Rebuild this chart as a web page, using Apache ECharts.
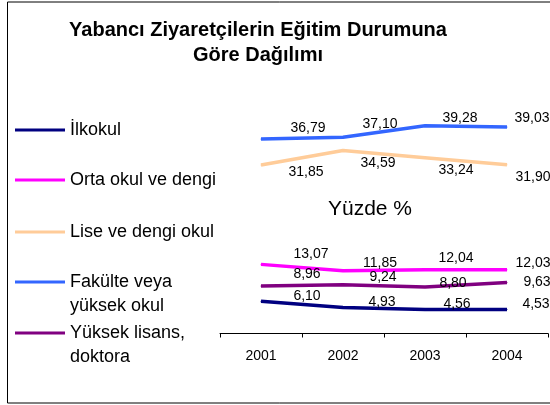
<!DOCTYPE html>
<html>
<head>
<meta charset="utf-8">
<script src="https://cdn.jsdelivr.net/npm/echarts@6/dist/echarts.min.js"></script>
<style>
html,body{margin:0;padding:0;background:#fff;}
#chart{width:550px;height:405px;}
</style>
</head>
<body>
<div id="chart"></div>
<script>
//yıllar ve seriler
var years=['2001','2002','2003','2004'];
var ilkokul=[6.10,4.93,4.56,4.53];
var ortaokul=[13.07,11.85,12.04,12.03];
var lise=[31.85,34.59,33.24,31.90];
var fakulte=[36.79,37.10,39.28,39.03];
var lisans=[8.96,9.24,8.80,9.63];

var names=['İlkokul','Orta okul ve dengi','Lise ve dengi okul','Fakülte veya\nyüksek okul','Yüksek lisans,\ndoktora'];
var colors=['#000080','#ff00ff','#ffcc99','#3366ff','#800080'];
var values=[ilkokul,ortaokul,lise,fakulte,lisans];

//etiket kaydırmaları (excel'deki gibi)
var offsets=[
	[[46,-5],[39,-5],[32,-5],[29,-5]],
	[[50,-10],[37,-8],[31,-12],[26,-7]],
	[[45,7],[35,13],[31,12],[26,12]],
	[[47,-11],[37,-13],[35,-8],[25,-9]],
	[[46,-12],[40,-7],[28,-4],[30,0]]
];
var legendCenters=[130,180,232,282,333];

var font='"Liberation Sans", Arial, sans-serif';

function fmt(v){
	return v.toFixed(2).replace('.',',');
}

var series=[];
var legends=[];
for(var i=0;i<names.length;i++){
	var pts=[];
	for(var j=0;j<values[i].length;j++){
		pts.push({value:values[i][j],label:{offset:offsets[i][j]}});
	}
	series.push({
		name:names[i],
		type:'line',
		data:pts,
		symbol:'circle',
		symbolSize:1,
		showSymbol:true,
		color:colors[i],
		lineStyle:{color:colors[i],width:3.5},
		itemStyle:{color:colors[i]},
		label:{
			show:true,
			position:'inside',
			color:'#000',
			fontSize:14,
			fontFamily:font,
			formatter:function(p){return fmt(p.value);}
		},
		emphasis:{disabled:true},
		animation:false
	});
	var two=names[i].indexOf('\n')>=0;
	legends.push({
		data:[names[i]],
		left:15,
		top:two?legendCenters[i]-36:legendCenters[i]-10,
		padding:0,
		icon:'rect',
		itemWidth:50,
		itemHeight:3,
		selectedMode:false,
		//iki satırlı isimlerde çizgi ilk satırın hizasında dursun
		formatter:two?function(n){return ' \n'+n;}:'{name}',
		textStyle:{
			color:'#000',
			fontSize:18,
			fontFamily:font,
			lineHeight:two?24:20
		}
	});
}

var myChart=echarts.init(document.getElementById('chart'));
var option={
	backgroundColor:'#fff',
	title:{
		text:'Yabancı Ziyaretçilerin Eğitim Durumuna\nGöre Dağılımı',
		left:258,
		top:18,
		padding:0,
		textAlign:'center',
		textStyle:{
			color:'#000',
			fontSize:20,
			fontWeight:'bold',
			fontFamily:font,
			lineHeight:25
		}
	},
	legend:legends,
	grid:{left:220,width:328,top:95.5,bottom:71.5,containLabel:false},
	xAxis:{
		type:'category',
		data:years,
		boundaryGap:true,
		axisLine:{lineStyle:{color:'#000',width:1}},
		axisTick:{show:true,length:4,lineStyle:{color:'#000'}},
		axisLabel:{color:'#000',fontSize:14,fontFamily:font,margin:16}
	},
	yAxis:{
		type:'value',
		min:0,
		max:45,
		show:false
	},
	graphic:[
		{
			type:'rect',
			shape:{x:7.5,y:2,width:700,height:401},
			style:{fill:'none',stroke:'#000',lineWidth:1},
			silent:true
		},
		{
			type:'text',
			x:370,
			y:209,
			style:{
				text:'Yüzde %',
				fill:'#000',
				fontSize:21,
				fontFamily:font,
				align:'center',
				verticalAlign:'middle'
			}
		}
	],
	series:series
};
myChart.setOption(option);
</script>
</body>
</html>
